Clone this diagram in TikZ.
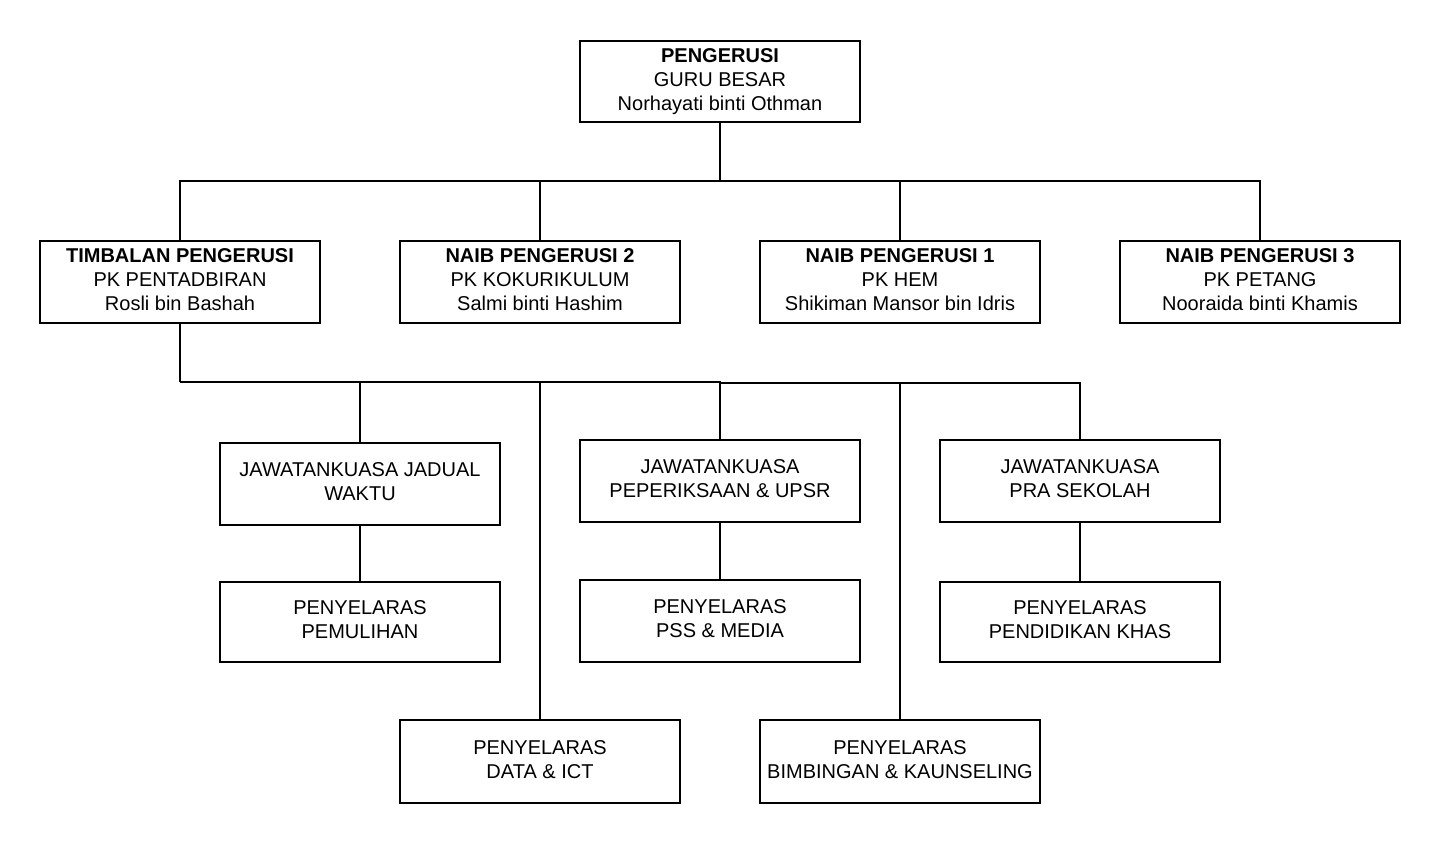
\documentclass[tikz,border=0pt]{standalone}
\usepackage{fontspec}
\setmainfont{Liberation Sans}
\newcommand{\lifted}[1]{\raisebox{2.5pt}{\begin{tabular}{@{}c@{}}#1\end{tabular}}}
\begin{document}
\begin{tikzpicture}[x=1pt,y=-1pt,
  box/.style={draw,line width=2pt,rectangle,minimum width=280pt,inner sep=0pt,
    font=\fontsize{20pt}{24pt}\selectfont},
  conn/.style={line width=2pt}]
\useasboundingbox[fill=white] (0,0) rectangle (1440,843);
\node[box,minimum height=81pt] (peng) at (720,81.5) {\lifted{\textbf{PENGERUSI}\\GURU BESAR\\Norhayati binti Othman}};
\node[box,minimum height=82pt] (tim) at (180,282) {\lifted{\textbf{TIMBALAN PENGERUSI}\\PK PENTADBIRAN\\Rosli bin Bashah}};
\node[box,minimum height=82pt] (naib2) at (540,282) {\lifted{\textbf{NAIB PENGERUSI 2}\\PK KOKURIKULUM\\Salmi binti Hashim}};
\node[box,minimum height=82pt] (naib1) at (900,282) {\lifted{\textbf{NAIB PENGERUSI 1}\\PK HEM\\Shikiman Mansor bin Idris}};
\node[box,minimum height=82pt] (naib3) at (1260,282) {\lifted{\textbf{NAIB PENGERUSI 3}\\PK PETANG\\Nooraida binti Khamis}};
\node[box,minimum height=82pt] (jadual) at (360,484) {\lifted{JAWATANKUASA JADUAL\\WAKTU}};
\node[box,minimum height=82pt] (periksa) at (720,481) {\lifted{JAWATANKUASA\\PEPERIKSAAN \& UPSR}};
\node[box,minimum height=82pt] (pra) at (1080,481) {\lifted{JAWATANKUASA\\PRA SEKOLAH}};
\node[box,minimum height=80pt] (pemulihan) at (360,622) {\lifted{PENYELARAS\\PEMULIHAN}};
\node[box,minimum height=82pt] (pss) at (720,621) {\lifted{PENYELARAS\\PSS \& MEDIA}};
\node[box,minimum height=80pt] (khas) at (1080,622) {\lifted{PENYELARAS\\PENDIDIKAN KHAS}};
\node[box,minimum height=83pt] (data) at (540,761.5) {\lifted{PENYELARAS\\DATA \& ICT}};
\node[box,minimum height=83pt] (bimb) at (900,761.5) {\lifted{PENYELARAS\\BIMBINGAN \& KAUNSELING}};
\coordinate (b1) at (720,181);
\coordinate (b2) at (180,381.5);
\coordinate (b3) at (720,383);
\draw[conn] (peng.south) -- (b1);
\draw[conn] (b1) -| (tim.north);
\draw[conn] (b1) -| (naib2.north);
\draw[conn] (b1) -| (naib1.north);
\draw[conn] (b1) -| (naib3.north);
\draw[conn] (tim.south) -- (b2);
\draw[conn] (b2) -| (jadual.north);
\draw[conn] (b2) -| (data.north);
\draw[conn] (b2) -| (periksa.north);
\draw[conn] (b3) -| (bimb.north);
\draw[conn] (b3) -| (pra.north);
\draw[conn] (jadual.south) -- (pemulihan.north);
\draw[conn] (periksa.south) -- (pss.north);
\draw[conn] (pra.south) -- (khas.north);
\end{tikzpicture}
\end{document}
